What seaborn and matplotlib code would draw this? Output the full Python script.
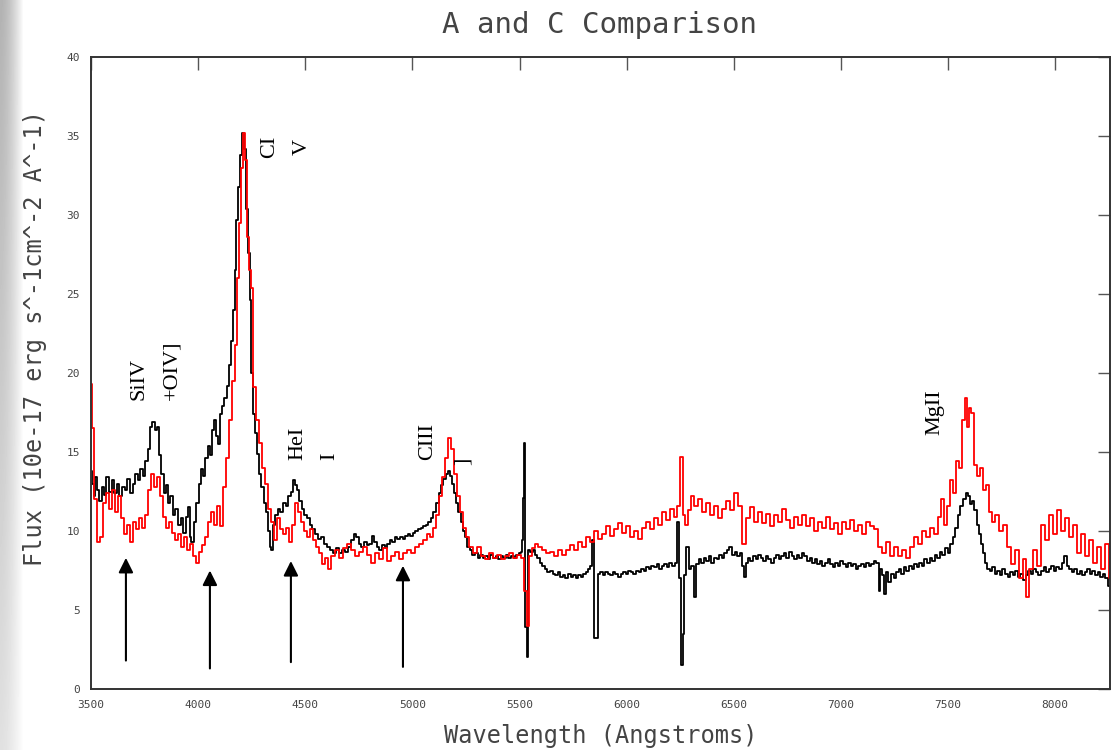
import numpy as np
import pandas as pd
import matplotlib
matplotlib.use("Agg")
import matplotlib.pyplot as plt
import seaborn as sns

# ---------------- data ----------------
wave_a = [3500, 3508, 3516, 3524, 3532, 3545, 3555, 3565, 3578, 3590, 3602, 3614, 3626, 3640, 3652, 3664, 3676, 3688,
          3700, 3712, 3724, 3736, 3748, 3760, 3772, 3782, 3792, 3804, 3814, 3824, 3834, 3844, 3854, 3864, 3876, 3888,
          3900, 3912, 3924, 3936, 3948, 3956, 3964, 3974, 3986, 3996, 4008, 4018, 4028, 4040, 4050, 4060, 4070, 4080,
          4090, 4100, 4108, 4118, 4128, 4138, 4148, 4158, 4166, 4174, 4182, 4192, 4200, 4209, 4218, 4226, 4236, 4244,
          4252, 4260, 4270, 4280, 4290, 4300, 4312, 4322, 4330, 4338, 4346, 4354, 4366, 4378, 4390, 4402, 4414, 4426,
          4438, 4448, 4458, 4468, 4478, 4490, 4502, 4514, 4526, 4540, 4554, 4568, 4582, 4596, 4610, 4624, 4638, 4652,
          4666, 4680, 4694, 4708, 4720, 4732, 4744, 4756, 4768, 4780, 4792, 4804, 4816, 4828, 4840, 4852, 4864, 4876,
          4888, 4900, 4912, 4924, 4936, 4948, 4960, 4972, 4984, 4996, 5008, 5020, 5032, 5044, 5056, 5068, 5080, 5092,
          5104, 5116, 5128, 5140, 5150, 5160, 5170, 5180, 5190, 5200, 5210, 5220, 5230, 5240, 5250, 5262, 5274, 5286,
          5298, 5310, 5322, 5334, 5346, 5358, 5370, 5382, 5394, 5406, 5418, 5430, 5442, 5454, 5466, 5478, 5490, 5502,
          5510, 5516, 5520, 5524, 5530, 5537, 5546, 5556, 5566, 5576, 5588, 5600, 5612, 5624, 5636, 5648, 5660, 5672,
          5684, 5696, 5708, 5720, 5732, 5744, 5756, 5768, 5780, 5792, 5804, 5816, 5826, 5836, 5843, 5853, 5862, 5870,
          5882, 5894, 5906, 5918, 5930, 5942, 5954, 5966, 5978, 5990, 6002, 6014, 6026, 6038, 6050, 6062, 6074, 6086,
          6098, 6110, 6122, 6134, 6146, 6158, 6170, 6182, 6194, 6206, 6218, 6230, 6240, 6250, 6258, 6266, 6274, 6284,
          6296, 6308, 6320, 6330, 6342, 6354, 6366, 6378, 6390, 6402, 6414, 6426, 6438, 6450, 6462, 6474, 6486, 6498,
          6510, 6522, 6534, 6546, 6552, 6560, 6572, 6584, 6596, 6608, 6620, 6632, 6644, 6656, 6668, 6680, 6692, 6704,
          6716, 6728, 6740, 6752, 6764, 6776, 6788, 6800, 6812, 6824, 6836, 6848, 6860, 6872, 6884, 6896, 6908, 6920,
          6932, 6944, 6956, 6968, 6980, 6992, 7004, 7016, 7028, 7040, 7052, 7064, 7076, 7088, 7100, 7112, 7124, 7136,
          7148, 7160, 7172, 7180, 7188, 7196, 7206, 7216, 7228, 7240, 7252, 7264, 7276, 7288, 7300, 7312, 7324, 7336,
          7348, 7360, 7372, 7384, 7396, 7408, 7420, 7432, 7444, 7456, 7468, 7480, 7492, 7504, 7516, 7528, 7540, 7552,
          7564, 7576, 7588, 7598, 7608, 7618, 7628, 7638, 7648, 7658, 7668, 7678, 7688, 7700, 7712, 7724, 7736, 7748,
          7760, 7772, 7784, 7796, 7808, 7820, 7832, 7844, 7856, 7868, 7880, 7892, 7904, 7916, 7928, 7940, 7952, 7964,
          7976, 7988, 8000, 8012, 8024, 8036, 8048, 8060, 8072, 8084, 8096, 8108, 8120, 8132, 8144, 8156, 8168, 8180,
          8192, 8204, 8216, 8228, 8240, 8256]
flux_a = [13.8, 13.0, 12.2, 13.4, 12.6, 11.9, 12.8, 12.3, 13.4, 12.5, 13.2, 12.4, 13.0, 12.2, 12.8, 12.6, 13.3, 12.4,
          13.0, 13.6, 13.2, 13.9, 13.5, 14.4, 15.2, 16.6, 16.9, 16.4, 16.6, 14.8, 13.6, 12.4, 12.9, 11.8, 12.2, 11.0,
          11.4, 10.4, 10.8, 9.9, 10.9, 11.5, 9.6, 9.3, 10.6, 11.8, 13.0, 13.9, 13.5, 14.6, 15.4, 14.8, 16.4, 17.0,
          16.0, 15.5, 17.4, 17.9, 18.4, 19.2, 20.5, 22.0, 24.0, 26.5, 29.7, 31.8, 33.8, 35.2, 34.2, 30.4, 27.6, 24.6,
          20.0, 17.4, 16.2, 14.9, 13.6, 12.8, 11.8, 11.2, 10.0, 9.0, 8.8, 10.4, 11.0, 11.4, 11.2, 11.8, 11.6, 12.2,
          12.5, 13.2, 12.9, 12.6, 11.9, 11.4, 11.0, 10.8, 10.4, 10.1, 9.8, 9.5, 9.6, 9.2, 9.0, 8.8, 8.6, 8.9,
          8.6, 8.8, 8.7, 9.0, 9.4, 9.8, 9.6, 9.2, 9.0, 9.3, 9.1, 9.2, 9.7, 9.3, 9.0, 8.8, 9.1, 8.9,
          9.2, 9.4, 9.3, 9.6, 9.5, 9.6, 9.5, 9.7, 9.8, 9.7, 9.9, 10.0, 10.1, 10.2, 10.3, 10.4, 10.6, 10.8,
          11.2, 11.8, 12.4, 12.9, 13.3, 13.6, 13.8, 13.5, 13.0, 12.4, 11.8, 11.2, 10.6, 10.0, 9.6, 9.0, 8.8, 8.5,
          8.6, 8.3, 8.5, 8.3, 8.4, 8.2, 8.5, 8.3, 8.4, 8.2, 8.4, 8.3, 8.5, 8.3, 8.4, 8.3, 8.5, 8.6,
          8.7, 9.4, 12.1, 15.6, 3.9, 2.0, 8.8, 8.7, 8.8, 8.5, 8.3, 8.0, 7.8, 7.6, 7.4, 7.5, 7.3, 7.2,
          7.4, 7.1, 7.2, 7.0, 7.3, 7.1, 7.2, 7.0, 7.2, 7.1, 7.3, 7.4, 7.6, 7.8, 9.4, 3.2, 3.2, 7.3,
          7.4, 7.2, 7.4, 7.3, 7.2, 7.4, 7.3, 7.1, 7.3, 7.4, 7.3, 7.5, 7.4, 7.3, 7.5, 7.4, 7.6, 7.5,
          7.7, 7.6, 7.8, 7.7, 7.9, 7.6, 7.8, 7.9, 7.7, 8.0, 7.8, 8.0, 10.6, 7.0, 1.5, 3.5, 7.2, 9.0,
          7.6, 7.8, 5.8, 7.9, 8.2, 8.0, 8.3, 8.1, 8.4, 8.0, 8.3, 8.2, 8.5, 8.3, 8.6, 8.8, 9.0, 8.5,
          8.7, 8.4, 8.6, 7.8, 7.1, 8.0, 8.3, 8.1, 8.4, 8.2, 8.5, 8.3, 8.1, 8.4, 8.2, 8.0, 8.3, 8.5,
          8.2, 8.4, 8.6, 8.3, 8.7, 8.4, 8.2, 8.5, 8.3, 8.6, 8.4, 8.1, 8.3, 8.0, 8.2, 7.9, 8.1, 7.8,
          8.0, 8.2, 7.9, 7.7, 8.0, 7.8, 8.1, 7.9, 7.7, 8.0, 7.8, 7.9, 7.6, 7.8, 7.9, 7.7, 8.0, 7.8,
          7.9, 8.1, 8.0, 6.2, 7.6, 7.2, 6.0, 7.4, 6.8, 7.3, 7.0, 7.4, 7.6, 7.3, 7.7, 7.5, 7.8, 7.6,
          7.9, 7.7, 8.0, 7.8, 8.2, 8.0, 8.3, 8.1, 8.5, 8.3, 8.7, 8.5, 8.9, 8.6, 9.2, 9.6, 10.2, 11.0,
          11.6, 12.0, 12.4, 12.2, 11.7, 11.9, 11.3, 10.4, 9.8, 9.2, 8.6, 8.0, 7.6, 7.5, 7.7, 7.3, 7.5, 7.2,
          7.6, 7.3, 7.1, 7.4, 7.2, 7.5, 7.1, 7.3, 6.9, 7.2, 7.5, 7.3, 7.6, 7.4, 7.2, 7.5, 7.7, 7.4,
          7.6, 7.8, 7.5, 7.7, 7.6, 8.0, 8.4, 7.8, 7.6, 7.4, 7.6, 7.3, 7.5, 7.2, 7.4, 7.6, 7.3, 7.5,
          7.2, 7.4, 7.1, 7.3, 7.0, 6.5]

wave_c = [3500, 3509, 3519, 3533, 3547, 3561, 3575, 3589, 3603, 3617, 3631, 3645, 3659, 3673, 3687, 3701, 3715, 3729,
          3743, 3757, 3771, 3785, 3799, 3813, 3827, 3841, 3855, 3869, 3883, 3897, 3911, 3925, 3939, 3953, 3967, 3981,
          3995, 4009, 4023, 4037, 4051, 4065, 4079, 4093, 4107, 4121, 4135, 4149, 4163, 4177, 4186, 4195, 4205, 4214,
          4223, 4233, 4242, 4251, 4265, 4279, 4293, 4307, 4321, 4335, 4349, 4363, 4377, 4391, 4405, 4419, 4433, 4447,
          4461, 4475, 4489, 4503, 4517, 4531, 4545, 4559, 4573, 4587, 4601, 4615, 4629, 4648, 4666, 4685, 4704, 4722,
          4741, 4760, 4779, 4797, 4816, 4835, 4853, 4872, 4890, 4909, 4928, 4947, 4965, 4984, 5003, 5021, 5040, 5059,
          5077, 5091, 5105, 5119, 5133, 5147, 5161, 5175, 5189, 5203, 5217, 5231, 5245, 5259, 5273, 5292, 5310, 5329,
          5348, 5367, 5385, 5404, 5423, 5441, 5460, 5479, 5497, 5516, 5530, 5539, 5553, 5567, 5581, 5595, 5614, 5633,
          5651, 5670, 5689, 5707, 5726, 5745, 5763, 5782, 5801, 5819, 5838, 5857, 5875, 5894, 5913, 5931, 5950, 5969,
          5987, 6006, 6025, 6043, 6062, 6081, 6099, 6118, 6137, 6155, 6174, 6193, 6211, 6230, 6244, 6258, 6267, 6281,
          6295, 6309, 6323, 6342, 6361, 6379, 6398, 6417, 6435, 6454, 6473, 6491, 6510, 6529, 6547, 6566, 6585, 6603,
          6622, 6641, 6659, 6678, 6697, 6715, 6734, 6753, 6771, 6790, 6809, 6827, 6846, 6865, 6883, 6902, 6921, 6939,
          6958, 6977, 6995, 7014, 7033, 7052, 7070, 7089, 7108, 7126, 7145, 7164, 7182, 7201, 7220, 7238, 7257, 7276,
          7294, 7313, 7332, 7350, 7369, 7388, 7406, 7425, 7444, 7462, 7476, 7490, 7504, 7518, 7532, 7546, 7560, 7574,
          7584, 7593, 7602, 7616, 7630, 7644, 7658, 7672, 7686, 7700, 7714, 7728, 7747, 7766, 7784, 7803, 7822, 7840,
          7859, 7873, 7887, 7906, 7924, 7943, 7962, 7980, 7999, 8018, 8036, 8055, 8074, 8092, 8111, 8130, 8148, 8167,
          8186, 8204, 8223, 8242, 8256]
flux_c = [19.3, 16.5, 12.0, 9.3, 9.6, 11.8, 12.4, 11.4, 12.6, 11.2, 12.2, 10.8, 9.8, 10.4, 9.3, 10.6, 10.1, 10.8,
          10.2, 11.0, 12.6, 13.6, 12.8, 13.4, 12.2, 10.9, 10.2, 10.6, 9.9, 9.4, 9.8, 9.0, 9.6, 8.8, 9.2, 8.4,
          8.0, 8.7, 9.1, 9.6, 10.6, 11.2, 10.4, 11.6, 10.3, 12.8, 14.6, 17.0, 19.5, 21.8, 26.0, 29.5, 33.0, 35.2,
          33.5, 28.6, 26.5, 25.4, 19.1, 17.0, 15.6, 14.0, 13.0, 11.4, 10.6, 9.4, 10.8, 10.1, 9.8, 10.2, 9.3, 10.4,
          11.8, 11.2, 10.6, 10.0, 9.6, 10.1, 9.4, 9.0, 8.6, 7.9, 8.3, 7.6, 8.4, 8.8, 8.3, 8.9, 9.2, 8.8,
          8.4, 8.7, 9.0, 8.5, 8.0, 8.6, 8.2, 8.9, 8.1, 8.4, 8.7, 8.2, 8.6, 8.8, 8.6, 9.0, 9.2, 9.4,
          9.8, 9.6, 10.2, 11.0, 12.2, 13.4, 14.6, 15.9, 15.2, 13.6, 12.2, 11.2, 10.2, 9.6, 9.0, 8.6, 9.0, 8.4,
          8.2, 8.6, 8.3, 8.5, 8.2, 8.4, 8.6, 8.3, 8.5, 8.3, 6.2, 4.0, 8.4, 8.9, 9.2, 9.0, 8.8, 8.6,
          8.7, 8.4, 8.8, 8.5, 8.8, 9.1, 8.8, 9.3, 9.0, 9.6, 9.3, 10.0, 9.5, 9.8, 10.3, 9.7, 10.1, 10.5,
          9.9, 10.3, 9.6, 10.0, 9.5, 10.2, 10.6, 10.1, 10.8, 10.4, 11.2, 10.7, 11.4, 10.9, 11.6, 14.7, 11.0, 10.4,
          11.3, 12.2, 11.6, 12.0, 11.2, 11.8, 11.0, 11.6, 10.8, 11.4, 11.9, 11.3, 12.4, 11.6, 9.2, 10.8, 11.5, 10.6,
          11.2, 10.5, 11.1, 10.3, 11.0, 10.6, 11.4, 10.7, 10.2, 10.9, 10.4, 11.0, 10.3, 10.8, 10.0, 10.6, 10.2, 10.9,
          10.1, 10.5, 9.8, 10.6, 10.1, 10.7, 10.0, 10.4, 9.8, 10.6, 10.3, 10.1, 9.0, 8.6, 9.3, 8.4, 9.0, 8.4,
          8.8, 8.3, 9.0, 9.6, 9.2, 10.0, 9.6, 10.2, 9.8, 10.9, 12.0, 10.4, 11.6, 13.2, 12.4, 14.4, 14.0, 17.0,
          18.4, 16.6, 17.8, 17.5, 14.2, 13.5, 14.0, 12.6, 12.9, 11.2, 10.6, 11.0, 10.0, 10.4, 9.0, 7.9, 8.8, 7.0,
          8.2, 5.8, 7.6, 8.8, 7.8, 10.4, 9.4, 11.0, 9.8, 11.3, 10.0, 10.8, 9.6, 10.4, 8.6, 9.8, 8.4, 9.4,
          8.0, 9.0, 7.6, 9.2, 7.0]

spectrum_names = ["A", "C"]
spectrum_colors = ["black", "red"]

# emission-line annotations (text, wavelength, flux at text base)
line_labels = ["SiIV", "+OIV]", "CI", "V", "HeI", "I", "CIII", "]", "MgII"]
line_label_x = [3724, 3878, 4335, 4485, 4466, 4615, 5073, 5236, 7439]
line_label_y = [18.3, 18.3, 33.6, 33.8, 14.5, 14.5, 14.5, 14.2, 16.1]

# arrows (wavelength, tip flux, tail flux)
arrow_x = [3663, 4055, 4433, 4956]
arrow_tip = [8.3, 7.5, 8.1, 7.8]
arrow_tail = [1.8, 1.3, 1.7, 1.4]

# ---------------- figure ----------------
sns.set_style("white")
plt.rcParams["font.family"] = ["DejaVu Sans Mono", "DejaVu Sans"]

fig = plt.figure(figsize=(11.19, 7.5), dpi=100)

# left slide-edge gradient strip
gax = fig.add_axes([0, 0, 24 / 1119, 1])
gx = np.linspace(0, 1, 24)
gy = np.linspace(0, 1, 200)[:, None]
shade = 0.70 + 0.18 * gy
grad = shade + (1 - shade) * (gx[None, :] ** 1.6)
gax.imshow(grad, cmap="gray", vmin=0, vmax=1, aspect="auto", origin="upper")
gax.axis("off")

ax = fig.add_axes([91 / 1119, 61 / 750, 1019 / 1119, 632 / 750])

df = pd.concat([
    pd.DataFrame({"wave": wave_a, "flux": flux_a, "spectrum": "A"}),
    pd.DataFrame({"wave": wave_c, "flux": flux_c, "spectrum": "C"}),
], ignore_index=True)

sns.lineplot(data=df, x="wave", y="flux", hue="spectrum", hue_order=spectrum_names,
             palette=dict(zip(spectrum_names, spectrum_colors)), estimator=None,
             drawstyle="steps-mid", linewidth=1.3, legend=False, ax=ax)

ax.set_xlim(3500, 8256)
ax.set_ylim(0, 40)
ax.set_xticks(np.arange(3500, 8001, 500))
ax.set_yticks(np.arange(0, 41, 5))
ax.tick_params(direction="in", length=9, width=1, colors="#555", top=True, right=True,
               labelsize=8, labelcolor="#444", pad=8)
for s in ax.spines.values():
    s.set_color("#333")
    s.set_linewidth(1.4)

ax.set_xlabel("Wavelength (Angstroms)", fontsize=17, color="#444")
ax.set_ylabel("Flux (10e-17 erg s^-1cm^-2 A^-1)", fontsize=17, color="#444")
ax.xaxis.set_label_coords(0.5, -0.055)
ax.yaxis.set_label_coords(-0.043, 0.555)

fig.text(600 / 1119, 1 - 25 / 750, "A and C Comparison", ha="center", va="center",
         fontsize=21, color="#444")

for t, x, y in zip(line_labels, line_label_x, line_label_y):
    ax.text(x, y, t, rotation=90, ha="center", va="bottom", fontsize=16,
            family="Liberation Serif", color="black")

for x, tip, tail in zip(arrow_x, arrow_tip, arrow_tail):
    ax.annotate("", xy=(x, tip), xytext=(x, tail),
                arrowprops=dict(arrowstyle="-|>", color="black", lw=1.5,
                                mutation_scale=22, shrinkA=0, shrinkB=0))

fig.savefig("out.png", dpi=100)
